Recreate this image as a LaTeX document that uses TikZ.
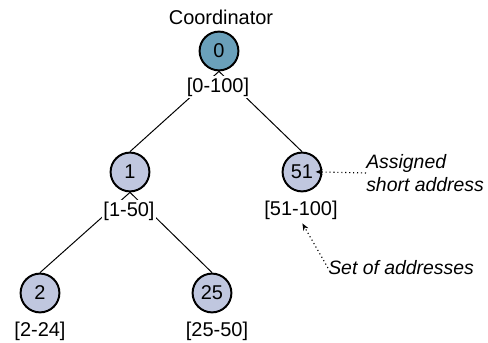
\documentclass[tikz,border=0pt]{standalone}
\usepackage{fontspec}
\setmainfont{Liberation Sans}
\usetikzlibrary{arrows.meta}

\definecolor{rootblue}{RGB}{106,160,186}
\definecolor{nodegray}{RGB}{192,199,223}

\begin{document}
\begin{tikzpicture}[
        font=\fontsize{14.2}{16.5}\selectfont,
        dev/.style={draw, circle, line width=1.4pt, fill=nodegray,
                    minimum size=0.97cm, inner sep=0pt},
        addrange/.style={fill=white, inner sep=1pt},
        link/.style={line width=0.7pt},
        note/.style={-{Stealth[length=5pt,width=4pt]}, dotted, line width=0.8pt},
        notetext/.style={font=\fontsize{13.8}{16.5}\selectfont\itshape,
                         align=left, anchor=west, inner sep=0pt}
      ]
        \useasboundingbox (0,0) rectangle (12.2,8.575);

        % devices
        \node[dev, fill=rootblue] (n0) at (5.475,7.3) {0};
        \node[dev] (n1) at (3.25,4.275) {1};
        \node[dev] (n51) at (7.55,4.275) {51};
        \node[dev] (n2) at (1.0,1.25) {2};
        \node[dev] (n25) at (5.3,1.25) {25};

        \node (coord) at (5.525,8.15) {Coordinator};

        % tree links
        \draw[link] (n0.south) -- (n1.north);
        \draw[link] (n0.south) -- (n51.north);
        \draw[link] (n1.south) -- (n2.north);
        \draw[link] (n1.south) -- (n25.north);

        % address ranges
        \node[addrange] (r0) at (5.45,6.4) {[0-100]};
        \node[addrange] (r1) at (3.225,3.3) {[1-50]};
        \node[addrange] (r51) at (7.525,3.325) {[51-100]};
        \node[addrange] (r2) at (1.0,0.3) {[2-24]};
        \node[addrange] (r25) at (5.425,0.3) {[25-50]};

        % annotations
        \node[notetext] (assign) at (9.15,4.25) {Assigned\\short address};
        \node[notetext] (set) at (8.2,1.875) {Set of addresses};

        \draw[note, shorten >=-0.17cm] (assign.west) -- (n51.east);
        \draw[note, shorten >=2pt] (set.west) -- (r51.south);
      \end{tikzpicture}
\end{document}
